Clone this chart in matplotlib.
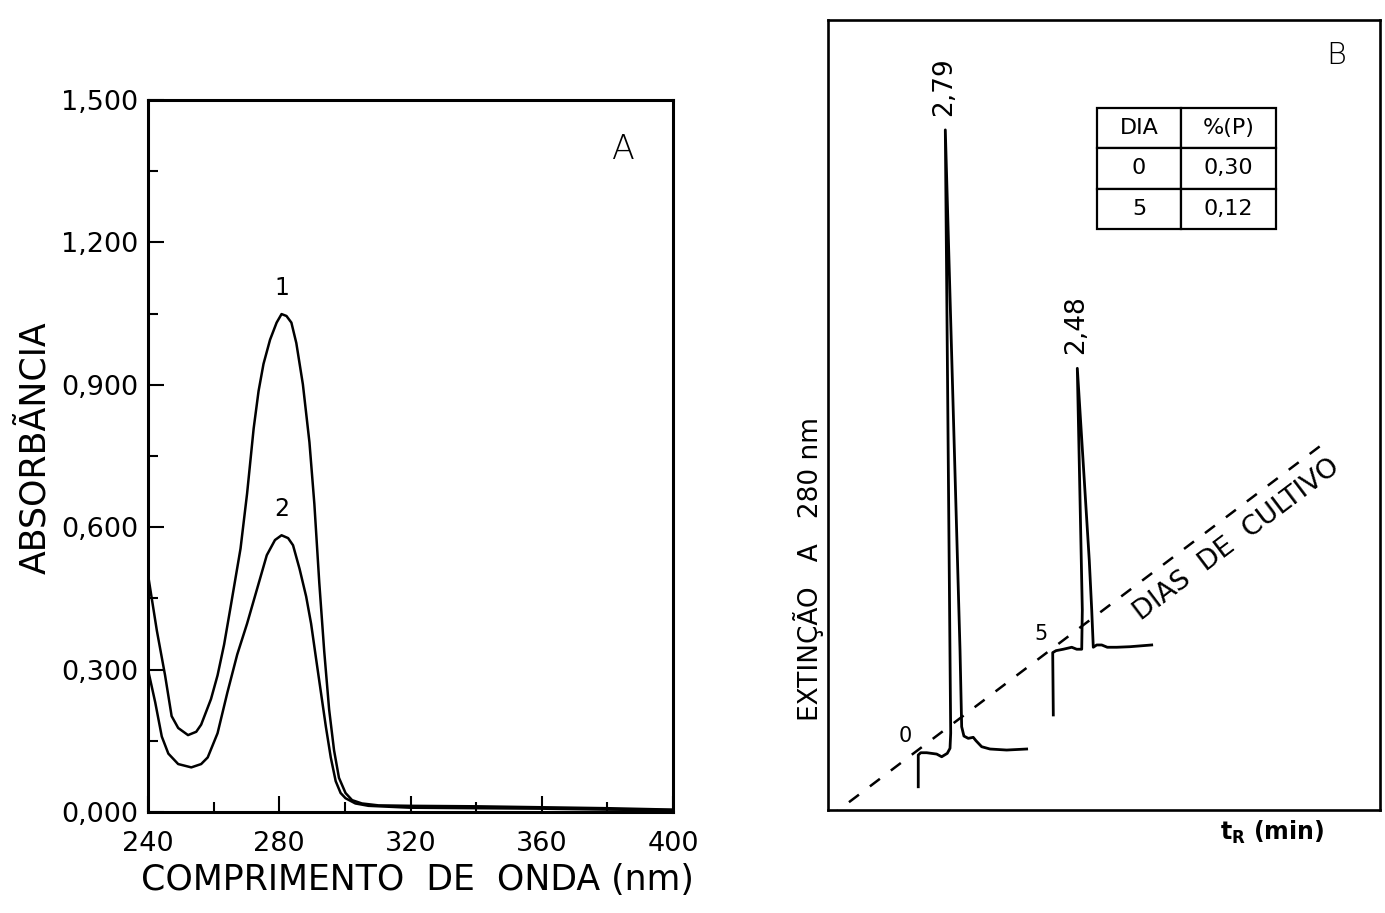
import math
import matplotlib
matplotlib.use("Agg")
import matplotlib.pyplot as plt
from matplotlib import font_manager

# ---------------- Panel A: UV absorption spectra ----------------
wavelength_1 = [240.0, 242.7, 245.2, 247.2, 249.2, 252.2, 254.7, 256.2, 259.2, 261.2,
                263.2, 265.2, 268.2, 270.2, 272.2, 273.7, 275.2, 277.2, 279.2, 280.7,
                282.2, 283.7, 285.2, 287.2, 289.2, 290.7, 292.2, 293.7, 295.2, 296.7,
                298.2, 300.2, 302.2, 305.2, 310.2, 320.0, 340.0, 360.0, 380.0, 400.0]
absorbance_1 = [0.500, 0.382, 0.288, 0.202, 0.177, 0.162, 0.169, 0.184, 0.238, 0.288,
                0.353, 0.433, 0.555, 0.671, 0.808, 0.887, 0.944, 0.995, 1.031, 1.049,
                1.045, 1.031, 0.988, 0.901, 0.779, 0.649, 0.483, 0.339, 0.216, 0.130,
                0.072, 0.040, 0.025, 0.018, 0.014, 0.013, 0.012, 0.010, 0.008, 0.005]

wavelength_2 = [240.0, 242.2, 244.2, 246.2, 249.2, 253.2, 256.2, 258.2, 261.2, 264.2,
                267.2, 270.2, 273.2, 276.2, 278.7, 280.7, 282.7, 284.2, 286.2, 288.2,
                289.7, 291.2, 292.7, 294.2, 295.7, 297.2, 298.7, 300.2, 303.2, 307.2,
                320.0, 340.0, 360.0, 380.0, 400.0]
absorbance_2 = [0.300, 0.231, 0.159, 0.123, 0.101, 0.094, 0.101, 0.115, 0.166, 0.252,
                0.332, 0.397, 0.469, 0.541, 0.573, 0.583, 0.577, 0.562, 0.512, 0.454,
                0.397, 0.324, 0.252, 0.180, 0.115, 0.065, 0.040, 0.029, 0.018, 0.013,
                0.009, 0.008, 0.007, 0.005, 0.004]

curve_names = ["1", "2"]
ytick_values = [0.0, 0.3, 0.6, 0.9, 1.2, 1.5]
xtick_values = [240, 280, 320, 360, 400]

# ---------------- Panel B: chromatograms by culture day ----------------
days = [0, 5]
retention_times = [2.79, 2.48]          # min, apex of the main peak
# time after injection (min) and extinction (arbitrary units) for each day
day0_time = [0.03, 0.03, 0.28, 0.89, 1.91, 2.42, 2.99, 3.27, 3.34, retention_times[0],
             4.29, 4.46, 4.69, 5.13, 5.64, 5.92, 6.50, 7.35, 9.05, 11.09]
day0_signal = [-4.65, -0.63, -0.34, -0.34, -0.51, -0.85, -0.42, 0.22, 2.15, 78.5,
               12.7, 2.95, 1.77, 1.48, 1.61, 1.18, 0.42, 0.13, 0.0, 0.13]
day5_time = [0.03, -0.03, 0.31, 1.05, 1.91, 2.42, 2.93, 2.99, retention_times[1],
             3.70, 3.95, 4.11, 4.46, 4.97, 5.54, 6.50, 7.86, 10.07]
day5_signal = [-8.48, -0.59, -0.34, -0.16, 0.09, -0.16, -0.16, 4.81, 35.4,
               11.1, 4.81, 0.09, 0.38, 0.38, 0.09, 0.09, 0.16, 0.38]
traces_time = [day0_time, day5_time]
traces_signal = [day0_signal, day5_signal]
days_axis_span = [-3.33, 15.1]          # extent of the dashed "days" axis

table_days = ["0", "5"]
table_pct = ["0,30", "0,12"]

# ---------------- figure ----------------
W, H = 1385, 913
fig = plt.figure(figsize=(W / 100, H / 100), dpi=100)
fig.patch.set_facecolor("white")

installed = {f.name for f in font_manager.fontManager.ttflist}
if "Liberation Sans Narrow" in installed:
    label_font, label_size = "Liberation Sans Narrow", 32
else:
    label_font, label_size = "DejaVu Sans", 25


def fx(px):
    return px / W


def fy(py):
    return 1 - py / H


# ---- Panel A ----
axA = fig.add_axes([fx(148), fy(812), fx(673) - fx(148), fy(100) - fy(812)])
axA.plot(wavelength_1, absorbance_1, color="black", lw=1.8, solid_joinstyle="round",
         clip_on=True)
axA.plot(wavelength_2, absorbance_2, color="black", lw=1.8, solid_joinstyle="round",
         clip_on=True)
axA.set_xlim(240, 400)
axA.set_ylim(0, 1.5)
axA.set_xticks(xtick_values)
axA.set_xticks(range(240, 401, 20), minor=True)
axA.set_yticks(ytick_values)
axA.set_yticks([0.15 * i for i in range(11)], minor=True)
axA.set_xticklabels([str(v) for v in xtick_values])
axA.set_yticklabels([f"{v:.3f}".replace(".", ",") for v in ytick_values])
axA.tick_params(which="major", direction="in", length=11.5, width=1.5,
                labelsize=19.5, pad=7)
axA.tick_params(which="minor", direction="in", length=7, width=1.5)
axA.tick_params(axis="x", which="major", pad=14)
for s in axA.spines.values():
    s.set_linewidth(2.2)

# curve numbers above the maxima
for name, wl, ab in zip(curve_names, [wavelength_1, wavelength_2], [absorbance_1, absorbance_2]):
    i = max(range(len(ab)), key=lambda k: ab[k])
    axA.annotate(name, (wl[i], ab[i]), xytext=(0, 10), textcoords="offset points",
                 ha="center", va="bottom", fontsize=17)

axA.text(0.905, 0.93, "A", transform=axA.transAxes, ha="center", va="center",
         fontsize=24, fontweight="light")

fig.text(fx(35), fy(448), "ABSORBÃNCIA", rotation=90, ha="center", va="center",
         family=[label_font, "DejaVu Sans"], fontsize=label_size)
fig.text(fx(417), fy(880), "COMPRIMENTO  DE  ONDA (nm)", ha="center", va="center",
         family=[label_font, "DejaVu Sans"], fontsize=label_size)

# ---- Panel B ----
axB = fig.add_axes([fx(828), fy(810), fx(1380) - fx(828), fy(20) - fy(810)])
axB.set_xlim(0, 552 / 9.8)
axB.set_ylim(0, 100)
axB.set_xticks([])
axB.set_yticks([])
for s in axB.spines.values():
    s.set_linewidth(1.9)

# pseudo-3D placement: each day is shifted along the dashed days axis
day_origin = (9.18, 7.59)
day_step = (2.756, 2.584)


def origin(d):
    return day_origin[0] + d * day_step[0], day_origin[1] + d * day_step[1]


(dx0, dy0), (dx1, dy1) = origin(days_axis_span[0]), origin(days_axis_span[1])
axB.plot([dx0, dx1], [dy0, dy1], color="black", lw=1.8, linestyle=(0, (5, 5.5)))

for d, t, e, rt in zip(days, traces_time, traces_signal, retention_times):
    ox, oy = origin(d)
    axB.plot([ox + v for v in t], [oy + v for v in e], color="black", lw=2.0,
             solid_joinstyle="round")
    axB.annotate(str(d), (ox, oy), xytext=(-9, 10), textcoords="offset points",
                 ha="center", va="center", fontsize=15)
    k = t.index(rt)
    axB.annotate(f"{rt:.2f}".replace(".", ","), (ox + rt, oy + e[k]),
                 xytext=(-1, 10), textcoords="offset points", rotation=90,
                 ha="center", va="bottom", fontsize=19)

# label along the dashed axis
p0 = axB.transData.transform((dx0, dy0))
p1 = axB.transData.transform((dx1, dy1))
ang = math.degrees(math.atan2(p1[1] - p0[1], p1[0] - p0[0]))
axB.text((1237 - 828) / 9.8, (810 - 540) / 7.9, "DIAS  DE  CULTIVO", rotation=ang,
         rotation_mode="anchor", ha="center", va="center", fontsize=19.5)

tbl = axB.table(cellText=[[a, b] for a, b in zip(table_days, table_pct)],
                colLabels=["DIA", "%(P)"], cellLoc="center",
                colWidths=[84 / 179, 95 / 179],
                bbox=[(1097 - 828) / 552, (810 - 229) / 790, 179 / 552, 121 / 790])
tbl.auto_set_font_size(False)
tbl.set_fontsize(16)
for cell in tbl.get_celld().values():
    cell.set_linewidth(1.6)

axB.text(0.92, 0.955, "B", transform=axB.transAxes, ha="center", va="center",
         fontsize=22, fontweight="light")

fig.text(fx(808), fy(569), "EXTINÇÃO   A   280 nm", rotation=90, ha="center",
         va="center", fontsize=19)
fig.text(fx(1272), fy(832), r"$\mathbf{t}_\mathbf{R}$ (min)", ha="center",
         va="center", fontsize=17, fontweight="bold")

fig.savefig("out.png", dpi=100, facecolor="white")
